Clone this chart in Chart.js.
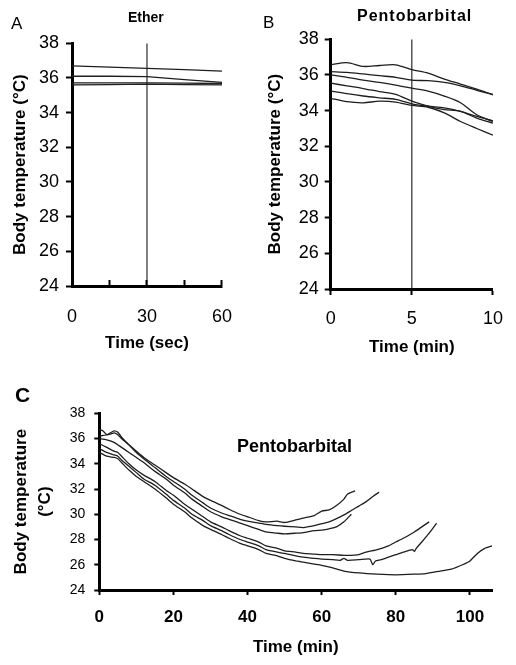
<!DOCTYPE html>
<html>
<head>
<meta charset="utf-8">
<script src="https://cdn.jsdelivr.net/npm/chart.js@4.4.1/dist/chart.umd.min.js"></script>
<style>
  body { margin: 0; background: #fff; width: 516px; height: 665px; position: relative; overflow: hidden; font-family: "Liberation Sans", Arial, sans-serif; }
  canvas { position: absolute; }
  .lbl { position: absolute; line-height: 1; color: #000; white-space: nowrap; }
</style>
</head>
<body>
<canvas id="chartA" width="258" height="360" style="left:0;top:0"></canvas>
<canvas id="chartB" width="258" height="365" style="left:258px;top:0"></canvas>
<canvas id="chartC" width="516" height="305" style="left:0;top:360px"></canvas>

<div class="lbl" style="left:11px;top:15px;font-size:17px">A</div>
<div class="lbl" style="left:128px;top:10px;font-size:14px;font-weight:bold">Ether</div>
<div class="lbl" style="left:263px;top:14px;font-size:17px">B</div>
<div class="lbl" style="left:357px;top:8px;font-size:16px;font-weight:bold;letter-spacing:1px">Pentobarbital</div>
<div class="lbl" style="left:15px;top:384px;font-size:21px;font-weight:bold">C</div>
<div class="lbl" style="left:237px;top:437px;font-size:18px;font-weight:bold">Pentobarbital</div>

<script>
// ---- Panel A: ether, seconds ----
const etherTime = [0, 15, 30, 45, 60];
const ether1 = [36.7, 36.62, 36.55, 36.48, 36.4];
const ether2 = [36.1, 36.1, 36.08, 35.9, 35.75];
const ether3 = [35.72, 35.72, 35.72, 35.7, 35.68];
const ether4 = [35.6, 35.62, 35.65, 35.62, 35.6];
const etherMark = 30;

// ---- Panel B: pentobarbital, first 10 min ----
const pentoTime = [0, 1, 2, 3, 4, 5, 6, 7, 8, 9, 10];
const pento1 = [36.57, 36.69, 36.48, 36.53, 36.57, 36.3, 36.1, 35.77, 35.49, 35.2, 34.88];
const pento2 = [36.19, 36.15, 36.06, 35.96, 35.87, 35.71, 35.68, 35.58, 35.39, 35.14, 34.91];
const pento3 = [36.0, 35.87, 35.71, 35.58, 35.43, 35.26, 35.1, 34.82, 34.44, 33.77, 33.39];
const pento4 = [35.54, 35.39, 35.24, 35.07, 34.91, 34.53, 34.25, 34.06, 33.96, 33.58, 33.3];
const pento5 = [35.1, 34.95, 34.82, 34.72, 34.63, 34.38, 34.25, 34.15, 33.96, 33.68, 33.43];
const pento6 = [34.69, 34.5, 34.44, 34.53, 34.48, 34.29, 34.19, 33.87, 33.39, 33.0, 32.63];
const pentoMark = 5;

// ---- Panel C: pentobarbital, whole recording ----
const upper1Time = [0, 1, 2, 3, 4, 5, 6, 8, 10, 12, 15, 18, 20, 23, 25, 28, 30, 33, 35, 38, 40, 43, 45, 48, 50, 53, 55, 58, 60, 62, 64, 66, 67, 69];
const upper1 = [36.7, 36.6, 36.3, 36.35, 36.45, 36.3, 36.0, 35.5, 35.0, 34.5, 33.9, 33.3, 32.9, 32.4, 32.0, 31.4, 31.1, 30.7, 30.4, 30.0, 29.8, 29.5, 29.4, 29.45, 29.35, 29.55, 29.7, 29.9, 30.25, 30.35, 30.7, 31.2, 31.6, 31.85];
const upper2Time = [0, 2, 4, 5, 6, 8, 10, 12, 15, 18, 20, 23, 25, 28, 30, 33, 35, 38, 40, 43, 45, 48, 50, 53, 55, 58, 60, 62, 64, 66, 68, 70, 72, 74, 75.5];
const upper2 = [36.2, 36.3, 36.6, 36.5, 36.1, 35.5, 34.9, 34.4, 33.7, 33.0, 32.6, 32.0, 31.5, 30.9, 30.5, 30.1, 29.9, 29.6, 29.45, 29.3, 29.2, 29.1, 29.05, 29.0, 28.95, 29.1, 29.25, 29.4, 29.65, 29.95, 30.3, 30.65, 31.0, 31.45, 31.75];
const upper3Time = [0, 2, 4, 6, 8, 10, 12, 15, 18, 20, 23, 25, 28, 30, 33, 35, 38, 40, 43, 45, 48, 50, 53, 55, 58, 60, 62, 64, 66, 68];
const upper3 = [36.0, 35.9, 35.7, 35.3, 34.9, 34.5, 34.1, 33.4, 32.8, 32.3, 31.7, 31.2, 30.6, 30.2, 29.8, 29.6, 29.3, 29.1, 28.8, 28.6, 28.5, 28.45, 28.5, 28.55, 28.7, 28.75, 28.85, 29.0, 29.4, 30.0];
const lower1Time = [0, 2, 4, 5, 6, 8, 10, 12, 15, 18, 20, 23, 25, 28, 30, 33, 35, 38, 40, 43, 45, 48, 50, 53, 55, 58, 60, 63, 66, 68, 70, 72, 75, 78, 80, 82, 85, 87, 89];
const lower1 = [35.6, 35.3, 35.0, 34.9, 34.6, 34.0, 33.5, 33.1, 32.6, 31.9, 31.5, 30.8, 30.4, 29.8, 29.4, 29.0, 28.7, 28.3, 28.1, 27.8, 27.5, 27.3, 27.1, 27.0, 26.9, 26.85, 26.8, 26.8, 26.75, 26.75, 26.8, 27.0, 27.2, 27.5, 27.8, 28.1, 28.6, 29.0, 29.4];
const lower2Time = [0, 2, 4, 5, 6, 8, 10, 12, 15, 18, 20, 23, 25, 28, 30, 33, 35, 38, 40, 43, 45, 48, 50, 53, 55, 58, 60, 63, 65, 66, 67, 70, 73, 73.8, 74.5, 76, 78, 80, 82, 84.5, 85, 85.5, 87, 89, 91];
const lower2 = [35.2, 34.9, 34.7, 34.6, 34.3, 33.8, 33.3, 32.8, 32.3, 31.6, 31.1, 30.5, 30.0, 29.5, 29.1, 28.7, 28.4, 28.0, 27.8, 27.5, 27.2, 27.0, 26.9, 26.7, 26.6, 26.5, 26.45, 26.4, 26.35, 26.5, 26.35, 26.4, 26.45, 26.0, 26.3, 26.4, 26.6, 26.8, 27.0, 27.2, 27.05, 27.3, 27.8, 28.5, 29.3];
const lower3Time = [0, 2, 4, 5, 6, 8, 10, 12, 15, 18, 20, 23, 25, 28, 30, 33, 35, 38, 40, 43, 45, 48, 50, 53, 55, 58, 60, 63, 66, 70, 75, 80, 85, 88, 92, 95, 98, 100, 102, 104, 106];
const lower3 = [34.9, 34.6, 34.5, 34.4, 34.1, 33.5, 33.0, 32.6, 32.0, 31.3, 30.8, 30.2, 29.7, 29.1, 28.8, 28.4, 28.1, 27.7, 27.5, 27.2, 26.9, 26.7, 26.5, 26.3, 26.2, 26.05, 25.95, 25.75, 25.5, 25.35, 25.25, 25.2, 25.25, 25.3, 25.5, 25.65, 26.0, 26.3, 26.9, 27.3, 27.5];
const wholeTicks = [0, 20, 40, 60, 80, 100];

const tempTicks = { min: 24, max: 38, step: 2 };
const lineColor = '#1e1e1e';
const fontFamily = '"Liberation Sans", Arial, sans-serif';

function toPoints(times, values) {
  return times.map((t, i) => ({ x: t, y: values[i] }));
}

function series(times, values, tension) {
  return { data: toPoints(times, values), borderColor: lineColor, borderWidth: 1.3, pointRadius: 0, tension: tension, fill: false };
}

function markerLine(t) {
  return { data: [{ x: t, y: tempTicks.min }, { x: t, y: tempTicks.max }], borderColor: '#000', borderWidth: 1, pointRadius: 0, fill: false };
}

function panelOptions(o) {
  return {
    responsive: false,
    animation: false,
    layout: { padding: o.pad },
    plugins: { legend: { display: false }, tooltip: { enabled: false } },
    scales: {
      x: {
        type: 'linear',
        min: o.xMin,
        max: o.xMax,
        afterFit: (s) => { s.height = o.xHeight; },
        afterBuildTicks: o.xFilter,
        border: { color: '#000', width: 3 },
        grid: { drawOnChartArea: false, tickLength: o.xTickLen, tickColor: '#000', tickWidth: 2 },
        ticks: { stepSize: o.xStep, padding: o.xPad, color: '#000', maxRotation: 0, autoSkip: false,
          font: o.xFont, callback: o.xLabel },
        title: { display: true, text: o.xTitle, color: '#000', font: { family: fontFamily, size: 17, weight: 'bold' } }
      },
      y: {
        min: tempTicks.min,
        max: tempTicks.max,
        afterFit: (s) => { s.width = o.yWidth; },
        border: { color: '#000', width: 3 },
        grid: { drawOnChartArea: false, tickLength: o.yTickLen, tickColor: '#000', tickWidth: 2 },
        ticks: { stepSize: tempTicks.step, padding: o.yPad, color: '#000', font: o.yFont },
        title: { display: true, text: o.yTitle, color: '#000', font: o.yTitleFont }
      }
    }
  };
}

new Chart(document.getElementById('chartA'), {
  type: 'line',
  data: {
    datasets: [
      series(etherTime, ether1, 0),
      series(etherTime, ether2, 0),
      series(etherTime, ether3, 0),
      series(etherTime, ether4, 0),
      markerLine(etherMark)
    ]
  },
  options: panelOptions({
    pad: { left: 6, top: 43.3, right: 27.3, bottom: 2.8 },
    yWidth: 66, xHeight: 71.2,
    xMin: 0, xMax: 60, xStep: 15, xTickLen: -6, xPad: 26,
    xLabel: (v) => (v % 30 === 0 ? v : ''),
    xFont: { family: fontFamily, size: 18 },
    xTitle: 'Time (sec)',
    yTickLen: 6, yPad: 7, yFont: { family: fontFamily, size: 18 },
    yTitle: 'Body temperature (°C)',
    yTitleFont: { family: fontFamily, size: 17, weight: 'bold' }
  })
});

new Chart(document.getElementById('chartB'), {
  type: 'line',
  data: {
    datasets: [
      series(pentoTime, pento1, 0.3),
      series(pentoTime, pento2, 0.3),
      series(pentoTime, pento3, 0.3),
      series(pentoTime, pento4, 0.3),
      series(pentoTime, pento5, 0.3),
      series(pentoTime, pento6, 0.3),
      markerLine(pentoMark)
    ]
  },
  options: panelOptions({
    pad: { left: 3, top: 39.3, right: 19.3, bottom: 3.8 },
    yWidth: 69.7, xHeight: 72.2,
    xMin: 0, xMax: 10, xStep: 5, xTickLen: 6, xPad: 13,
    xFont: { family: fontFamily, size: 18 },
    xTitle: 'Time (min)',
    yTickLen: 6, yPad: 6, yFont: { family: fontFamily, size: 18 },
    yTitle: 'Body temperature (°C)',
    yTitleFont: { family: fontFamily, size: 17, weight: 'bold' }
  })
});

new Chart(document.getElementById('chartC'), {
  type: 'line',
  data: {
    datasets: [
      series(upper1Time, upper1, 0.2),
      series(upper2Time, upper2, 0.2),
      series(upper3Time, upper3, 0.2),
      series(lower1Time, lower1, 0.2),
      series(lower2Time, lower2, 0.2),
      series(lower3Time, lower3, 0.2)
    ]
  },
  options: panelOptions({
    pad: { left: 5.5, top: 53.3, right: 23.8, bottom: 3.8 },
    yWidth: 93.8, xHeight: 71.2,
    xMin: 0, xMax: 106, xStep: 20, xTickLen: 5, xPad: 12,
    xFilter: (axis) => { axis.ticks = wholeTicks.map((v) => ({ value: v })); },
    xFont: { family: fontFamily, size: 17, weight: 'bold' },
    xTitle: 'Time (min)',
    yTickLen: 5, yPad: 9, yFont: { family: fontFamily, size: 14 },
    yTitle: ['Body temperature', '(°C)'],
    yTitleFont: { family: fontFamily, size: 17, weight: 'bold', lineHeight: 1.41 }
  })
});
</script>
</body>
</html>
